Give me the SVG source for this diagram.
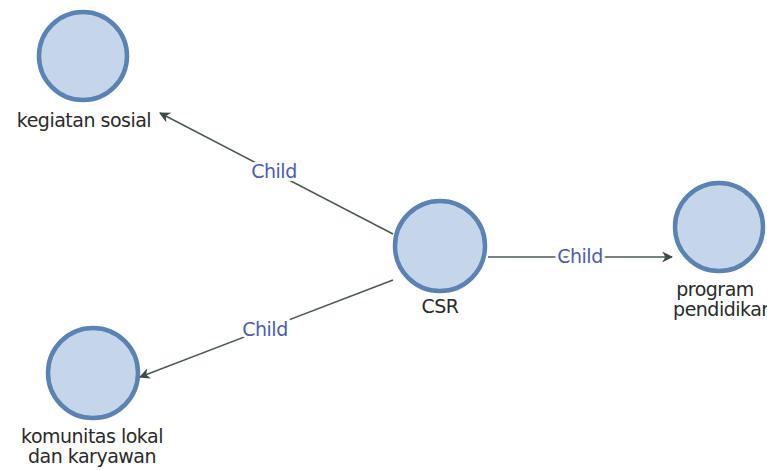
<svg xmlns="http://www.w3.org/2000/svg" width="767" height="470" viewBox="0 0 767 470">
<style>
.node circle{fill:#c6d6ea;stroke:#5a82b3;stroke-width:4.5}
.lbl{font-family:"DejaVu Sans","Liberation Sans",sans-serif;font-size:19px;fill:#2a2a2a;text-anchor:middle;letter-spacing:-0.5px}
.edge{stroke:#4a5754;stroke-width:1.5;fill:none}
.elbl{font-family:"DejaVu Sans","Liberation Sans",sans-serif;font-size:19px;fill:#4a5cb0;text-anchor:middle;letter-spacing:-0.5px;stroke:#fff;stroke-width:6;paint-order:stroke}
</style>
<defs>
<marker id="arr" viewBox="0 0 10 10" refX="9" refY="5" markerWidth="11" markerHeight="11" markerUnits="userSpaceOnUse" orient="auto">
<path d="M0,0 L10,5 L0,10 L3,5 Z" fill="#3e4a47"/>
</marker>
</defs>
<rect width="767" height="470" fill="#fff"/>
<g id="connectors">
<line class="edge" x1="393" y1="234" x2="160" y2="113" marker-end="url(#arr)"/>
<line class="edge" x1="488" y1="257" x2="672" y2="257" marker-end="url(#arr)"/>
<line class="edge" x1="393" y1="280" x2="140" y2="377" marker-end="url(#arr)"/>
<text class="elbl" x="274" y="178">Child</text>
<text class="elbl" x="580" y="263">Child</text>
<text class="elbl" x="265" y="336">Child</text>
</g>
<g id="node-kegiatan" class="node">
<circle cx="83" cy="56" r="44"/>
<text class="lbl" x="84" y="127">kegiatan sosial</text>
</g>
<g id="node-csr" class="node">
<circle cx="440" cy="246" r="45"/>
<text class="lbl" x="440" y="313">CSR</text>
</g>
<g id="node-program" class="node">
<circle cx="719" cy="227" r="44"/>
<text class="lbl" x="715" y="296">program</text>
<text class="lbl" x="723" y="316">pendidikan</text>
</g>
<g id="node-komunitas" class="node">
<circle cx="93" cy="373" r="45"/>
<text class="lbl" x="92" y="443">komunitas lokal</text>
<text class="lbl" x="92" y="463">dan karyawan</text>
</g>
</svg>
